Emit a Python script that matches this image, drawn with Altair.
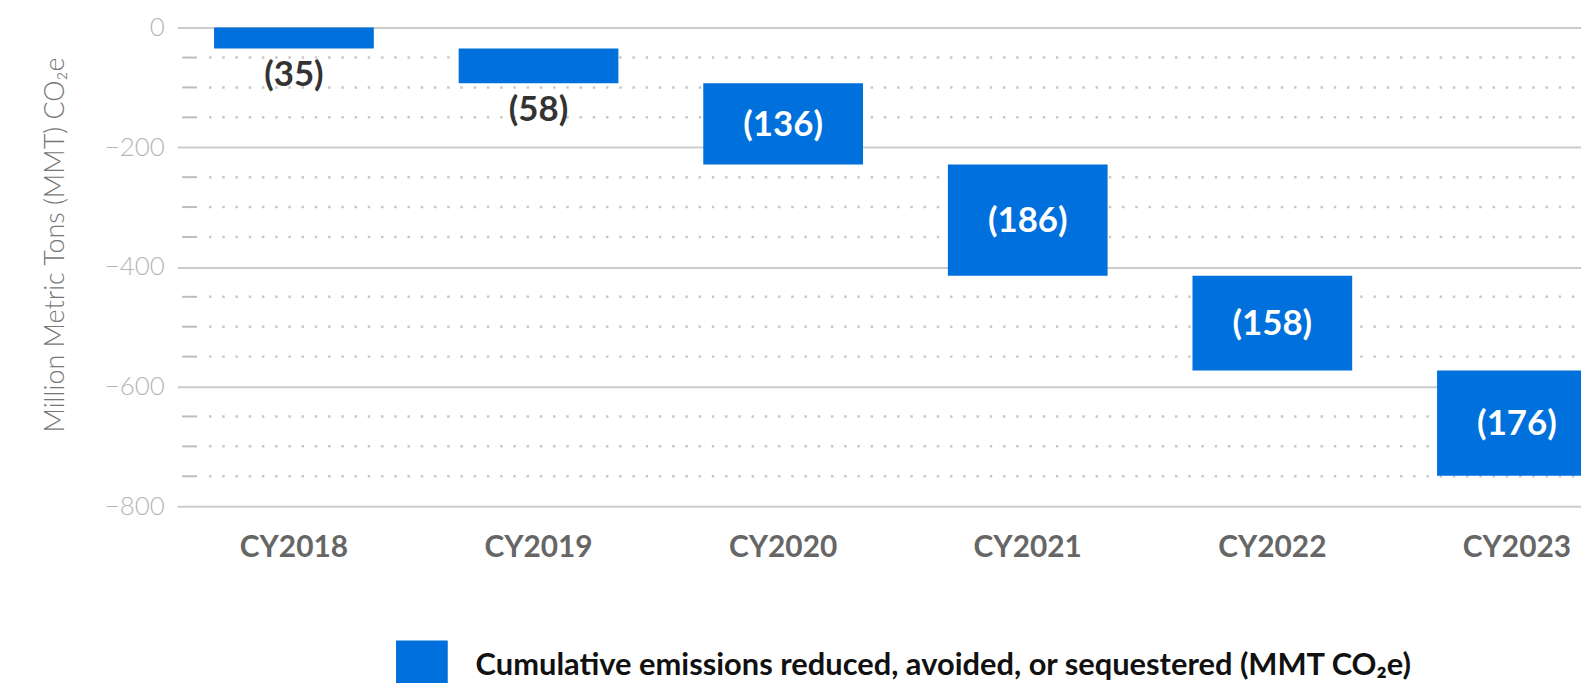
import altair as alt
import pandas as pd

years = ["CY2018", "CY2019", "CY2020", "CY2021", "CY2022", "CY2023"]
reductions = [-35, -58, -136, -186, -158, -176]
major_ticks = [0, -200, -400, -600, -800]
minor_ticks = [-50, -100, -150, -250, -300, -350, -450, -500, -550, -650, -700, -750]
series_name = "Cumulative emissions reduced, avoided, or sequestered (MMT CO₂e)"
y_title = "Million Metric Tons (MMT) CO₂e"

df = pd.DataFrame({"year": years, "value": reductions, "order": list(range(len(years)))})
df["series"] = series_name
minor_df = pd.DataFrame({"v": minor_ticks})

FONT = "Lato"
BLUE = "#0071dc"
W, H = 1412, 481

y_scale = alt.Scale(domain=[-800, 0], nice=False, zero=False)
x_scale = alt.Scale(domain=years, range=[1, 1465], paddingInner=0.347, paddingOuter=0.151)

y_axis = alt.Axis(
    values=major_ticks, grid=True, gridColor="#cccccc", gridWidth=2,
    domain=False, ticks=False, labelFont=FONT, labelFontSize=26, labelFontWeight=300,
    labelColor="#b5b5b5", labelPadding=12, title=y_title, titleFont=FONT,
    titleFontSize=27, titleFontWeight=300, titleColor="#777777", titleAngle=270,
    titleX=-121, titleY=218, titleAlign="center", titleBaseline="middle",
)
x_axis = alt.Axis(
    title=None, domain=False, ticks=False, labelFont=FONT, labelFontSize=30,
    labelFontWeight="bold", labelColor="#666666", labelPadding=27, labelAngle=0,
)

base = alt.Chart(df).transform_window(
    end="sum(value)", frame=[None, 0], sort=[alt.SortField("order")]
).transform_calculate(
    start="datum.end - datum.value",
    mid="(datum.start + datum.end) / 2",
    label="'(' + abs(datum.value) + ')'",
)

minor_lines = alt.Chart(minor_df).mark_rule(
    color="#c8c8c8", strokeWidth=2.5, strokeDash=[2.5, 10.8]
).encode(
    y=alt.Y("v:Q", scale=y_scale, axis=y_axis), x=alt.value(33), x2=alt.value(W)
)
minor_ticks_marks = alt.Chart(minor_df).mark_rule(color="#bdbdbd", strokeWidth=2).encode(
    y=alt.Y("v:Q", scale=y_scale, axis=y_axis), x=alt.value(6), x2=alt.value(21)
)

bars = base.mark_bar(color=BLUE).encode(
    x=alt.X("year:N", scale=x_scale, axis=x_axis),
    y=alt.Y("start:Q", scale=y_scale, axis=y_axis),
    y2="end:Q",
    color=alt.Color(
        "series:N", scale=alt.Scale(domain=[series_name], range=[BLUE]),
        legend=alt.Legend(
            orient="none", legendX=221, legendY=616, title=None, symbolType="square",
            symbolSize=2704, symbolStrokeWidth=0, symbolOpacity=1, labelFont=FONT,
            labelFontSize=31, labelFontWeight="bold", labelColor="#111111",
            labelLimit=2000, labelOffset=28, padding=0,
        ),
    ),
)

inside_labels = base.transform_filter("abs(datum.value) >= 100").mark_text(
    color="white", font=FONT, fontSize=35, fontWeight="bold", baseline="middle", dy=1
).encode(
    x=alt.X("year:N", scale=x_scale, axis=x_axis),
    y=alt.Y("mid:Q", scale=y_scale, axis=y_axis),
    text="label:N",
)
below_labels = base.transform_filter("abs(datum.value) < 100").mark_text(
    color="#333333", font=FONT, fontSize=35, fontWeight="bold", baseline="middle", dy=27
).encode(
    x=alt.X("year:N", scale=x_scale, axis=x_axis),
    y=alt.Y("end:Q", scale=y_scale, axis=y_axis),
    text="label:N",
)

chart = alt.layer(minor_lines, minor_ticks_marks, bars, inside_labels, below_labels).properties(
    width=W, height=H,
    autosize=alt.AutoSizeParams(type="none"),
    padding={"left": 169, "top": 18, "right": 0, "bottom": 176},
).configure_view(stroke=None)

chart.save("out.html", embed_options={"renderer": "svg", "actions": False})
